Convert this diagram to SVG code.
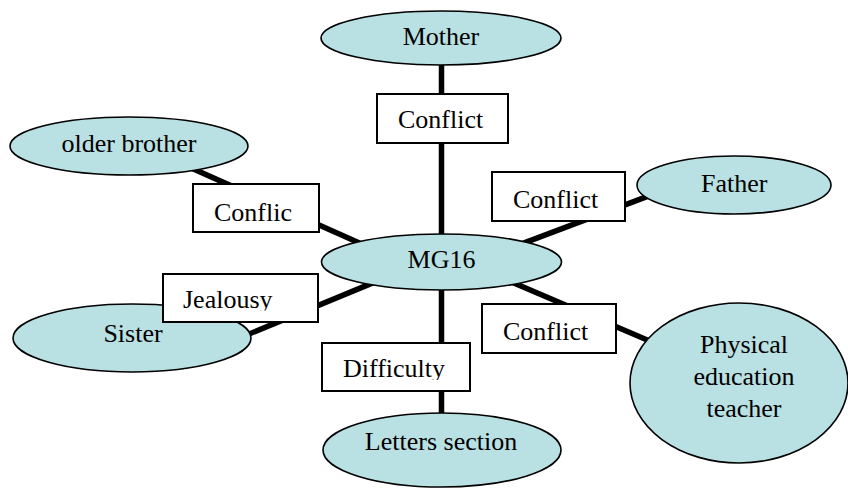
<svg xmlns="http://www.w3.org/2000/svg" width="848" height="490" viewBox="0 0 848 490">
<style>
.n{fill:#b9e0e3;stroke:#000;stroke-width:1.6}
.b{fill:#fff;stroke:#000;stroke-width:2}
.e{stroke:#000;stroke-width:5.5;fill:none}
.t{font-family:'Liberation Serif','Times New Roman',Times,serif;font-size:26px;fill:#000}
.c{text-anchor:middle}
</style>
<defs>
<clipPath id="clipJ"><rect x="163" y="274" width="155" height="36.5"/></clipPath>
<clipPath id="clipD"><rect x="322" y="343" width="148" height="37"/></clipPath>
</defs>
<g id="connectors">
<line class="e" x1="441.5" y1="38" x2="441.5" y2="450"/>
<line class="e" x1="180" y1="163" x2="420" y2="270"/>
<line class="e" x1="500" y1="252" x2="690" y2="180.4"/>
<line class="e" x1="220" y1="346" x2="420" y2="263.4"/>
<line class="e" x1="480" y1="268.6" x2="690" y2="358.3"/>
</g>
<g font-family="Liberation Serif, Times New Roman, serif" font-size="26">
<g id="mother"><ellipse class="n" cx="441" cy="38" rx="120" ry="27"/><text class="t c" x="441" y="45">Mother</text></g>
<g id="older-brother"><ellipse class="n" cx="129" cy="146" rx="119" ry="29"/><text class="t c" x="129" y="152">older brother</text></g>
<g id="father"><ellipse class="n" cx="734" cy="185" rx="97" ry="29"/><text class="t" x="701" y="192">Father</text></g>
<g id="mg16"><ellipse class="n" cx="441.5" cy="262" rx="120" ry="28"/><text class="t c" x="441.5" y="268">MG16</text></g>
<g id="sister"><ellipse class="n" cx="132" cy="338" rx="119" ry="34"/><text class="t c" x="133" y="342">Sister</text></g>
<g id="letters-section"><ellipse class="n" cx="442" cy="450" rx="119" ry="37"/><text class="t c" x="441" y="450">Letters section</text></g>
<g id="pe-teacher"><ellipse class="n" cx="739" cy="383" rx="109" ry="80"/>
<text class="t c" x="744" y="353">Physical</text><text class="t c" x="744" y="385">education</text><text class="t c" x="744" y="417">teacher</text></g>
<g id="label-mother"><rect class="b" x="377" y="94" width="131" height="49"/><text class="t" x="398" y="128">Conflict</text></g>
<g id="label-brother"><rect class="b" x="193" y="184" width="126" height="48"/><text class="t" x="214" y="221">Conflic</text></g>
<g id="label-father"><rect class="b" x="492" y="172" width="133" height="49"/><text class="t" x="513" y="208">Conflict</text></g>
<g id="label-sister"><rect class="b" x="163" y="274" width="155" height="48"/><text class="t" x="183" y="308" clip-path="url(#clipJ)">Jealousy</text></g>
<g id="label-letters"><rect class="b" x="322" y="343" width="148" height="48"/><text class="t" x="343" y="377" clip-path="url(#clipD)">Difficulty</text></g>
<g id="label-teacher"><rect class="b" x="482" y="304" width="134" height="49"/><text class="t" x="503" y="340">Conflict</text></g>
</g>
</svg>
